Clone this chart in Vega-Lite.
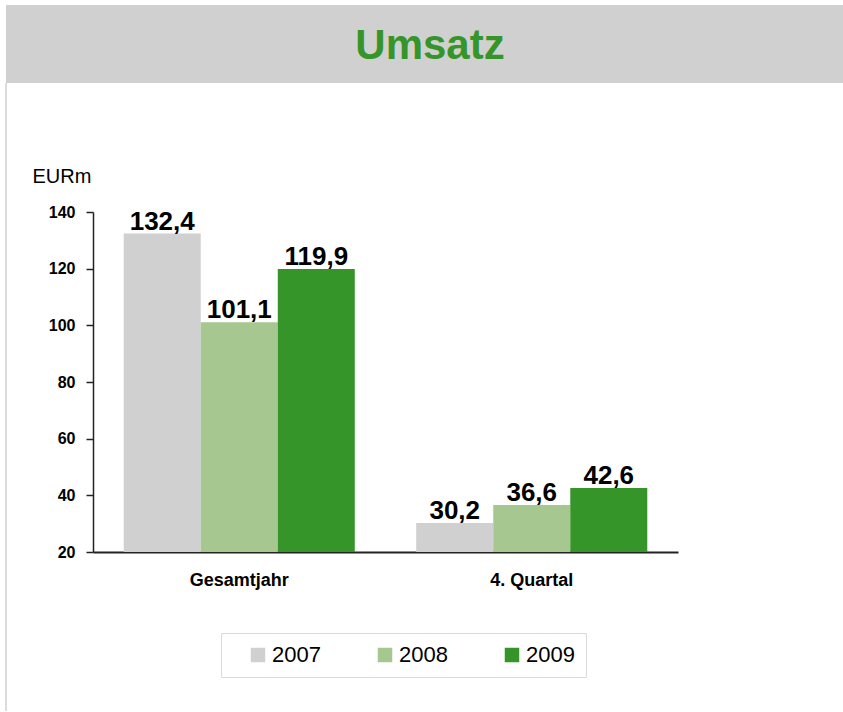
{
  "$schema": "https://vega.github.io/schema/vega-lite/v6.json",
  "padding": {"left": 5, "top": 5, "right": 0, "bottom": 0},
  "spacing": 0,
  "bounds": "flush",
  "config": {
    "font": "Liberation Sans",
    "locale": {"number": {"decimal": ",", "thousands": ".", "grouping": [3], "currency": ["", " €"]}}
  },
  "vconcat": [
    {
      "width": 838,
      "height": 78,
      "view": {"fill": "#d0d0d0", "stroke": null},
      "data": {"values": [{"title": "Umsatz"}]},
      "mark": {"type": "text", "fontSize": 42, "fontWeight": "bold", "color": "#359528", "baseline": "middle", "align": "center", "dy": 2, "dx": 5},
      "encoding": {"text": {"field": "title"}}
    },
    {
      "width": 837,
      "height": 628,
      "view": {"stroke": "#d0d0d0", "strokeWidth": 1.5, "strokeDash": [0, 2302, 628, 0]},
      "data": {"values": [
        {"period": "Gesamtjahr", "year": "2007", "value": 132.4},
        {"period": "Gesamtjahr", "year": "2008", "value": 101.1},
        {"period": "Gesamtjahr", "year": "2009", "value": 119.9},
        {"period": "4. Quartal", "year": "2007", "value": 30.2},
        {"period": "4. Quartal", "year": "2008", "value": 36.6},
        {"period": "4. Quartal", "year": "2009", "value": 42.6}
      ]},
      "encoding": {
        "x": {
          "field": "period", "type": "nominal", "sort": ["Gesamtjahr", "4. Quartal"],
          "scale": {"range": [87, 672], "paddingInner": 0.21, "paddingOuter": 0.105},
          "axis": {"orient": "bottom", "offset": -159, "domainColor": "#222222", "domainWidth": 2, "ticks": false, "labelFontSize": 18, "labelFontWeight": "bold", "labelColor": "black", "labelPadding": 19, "labelAngle": 0, "title": null}
        },
        "xOffset": {"field": "year", "type": "nominal", "scale": {"paddingInner": 0, "paddingOuter": 0}}
      },
      "layer": [
        {
          "mark": {"type": "bar"},
          "encoding": {
            "y": {
              "field": "value", "type": "quantitative",
              "scale": {"domain": [20, 140], "range": [469, 129], "zero": false, "nice": false},
              "axis": {"offset": -87, "values": [20, 40, 60, 80, 100, 120, 140], "grid": false, "domainColor": "#222222", "domainWidth": 1.5, "tickColor": "#222222", "tickWidth": 1.5, "tickSize": 7, "labelFontSize": 16, "labelFontWeight": "bold", "labelColor": "black", "labelPadding": 11, "title": "EURm", "titleAngle": 0, "titleAlign": "left", "titleBaseline": "alphabetic", "titleX": -61, "titleY": 99, "titleFontSize": 20, "titleFontWeight": "normal", "titleColor": "black"}
            },
            "y2": {"datum": 20},
            "color": {
              "field": "year", "type": "nominal",
              "scale": {"domain": ["2007", "2008", "2009"], "range": ["#d0d0d0", "#a6c78f", "#359528"]},
              "legend": {"orient": "none", "legendX": 215, "legendY": 628, "direction": "horizontal", "title": null, "symbolType": "square", "symbolSize": 210, "symbolStrokeWidth": 0, "labelFontSize": 22, "labelColor": "black", "labelOffset": 3, "columnPadding": 38, "padding": 11, "symbolOffset": 15, "strokeColor": "#d9d9d9"}
            }
          }
        },
        {
          "mark": {"type": "text", "baseline": "alphabetic", "dy": -4, "fontSize": 26, "fontWeight": "bold", "color": "black"},
          "encoding": {
            "y": {"field": "value", "type": "quantitative"},
            "text": {"field": "value", "type": "quantitative", "format": ".1f"}
          }
        }
      ]
    }
  ]
}
